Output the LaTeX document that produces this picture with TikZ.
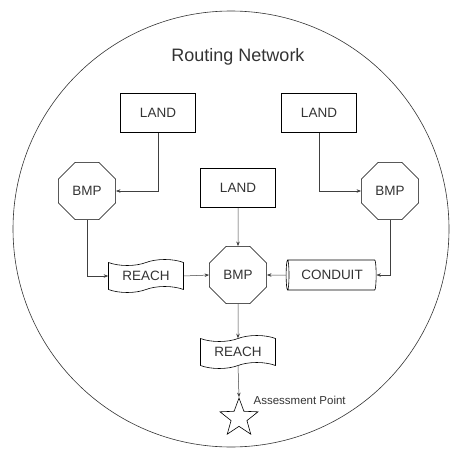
\documentclass[tikz,border=0pt]{standalone}
\usepackage{fontspec}
\setmainfont{Liberation Sans}
\usetikzlibrary{shapes.geometric,shapes.symbols,arrows.meta}
\definecolor{inkgray}{HTML}{333333}
\tikzset{
    landbox/.style={draw, minimum width=75pt, minimum height=39pt, inner sep=0pt,
        font=\fontsize{13.5}{15}\selectfont, text=inkgray},
    bmpoct/.style={draw, regular polygon, regular polygon sides=8, minimum size=62pt,
        inner sep=0pt, font=\fontsize{13.5}{15}\selectfont, text=inkgray},
    reachtape/.style={draw, tape, minimum width=75pt, minimum height=33pt, inner sep=0pt,
        tape bend height=6pt, font=\fontsize{13.5}{15}\selectfont, text=inkgray},
    conduitpipe/.style={draw, cylinder, shape border rotate=180, shape aspect=0.3,
        minimum width=30pt, minimum height=90pt, inner sep=0pt,
        font=\fontsize{13.5}{15}\selectfont, text=inkgray},
    flow/.style={draw=black!75, line width=0.5pt, -{Stealth[length=4.5pt,width=3.5pt]}}
}
\begin{document}
                \begin{tikzpicture}[x=1pt, y=-1pt, line width=0.6pt]
                    \useasboundingbox (0,0) rectangle (452,452);
                    \draw[black!80] (231,229) circle (218pt);

                    \node [font=\fontsize{18}{20}\selectfont, text=inkgray] (title) at (238,57) {Routing Network};

                    \node [landbox] (landL) at (158,113) {LAND};
                    \node [landbox] (landR) at (319,113) {LAND};
                    \node [landbox] (landC) at (238,188) {LAND};

                    \node [bmpoct] (bmpL) at (87,191) {BMP};
                    \node [bmpoct] (bmpR) at (390,191) {BMP};
                    \node [bmpoct] (bmpC) at (238,275) {BMP};

                    \node [reachtape] (reachL) at (146,276) {REACH};
                    \node [conduitpipe] (conduit) at (332,275) {CONDUIT};
                    \node [reachtape] (reachB) at (238,352) {REACH};

                    \node [draw, star, star points=5, star point ratio=2.4, minimum size=40pt,
                           inner sep=0pt] (assess) at (239,418) {};
                    \node [anchor=west, font=\fontsize{11.5}{13}\selectfont, text=inkgray] (assesslbl) at (250,400) {Assessment Point};

                    \draw[flow] (landL.south) |- (bmpL.east);
                    \draw[flow] (landR.south) |- (bmpR.west);
                    \draw[flow] (landC.south) -- (bmpC.north);
                    \draw[flow] (bmpL.south) |- (reachL.west);
                    \draw[flow] (reachL.east) -- (bmpC.west);
                    \draw[flow] (bmpR.south) |- (conduit.east);
                    \draw[flow] (conduit.west) -- (bmpC.east);
                    \draw[flow] (bmpC.south) -- (reachB.north);
                    \draw[flow] (reachB.south) -- (assess.north);
                \end{tikzpicture}
\end{document}
